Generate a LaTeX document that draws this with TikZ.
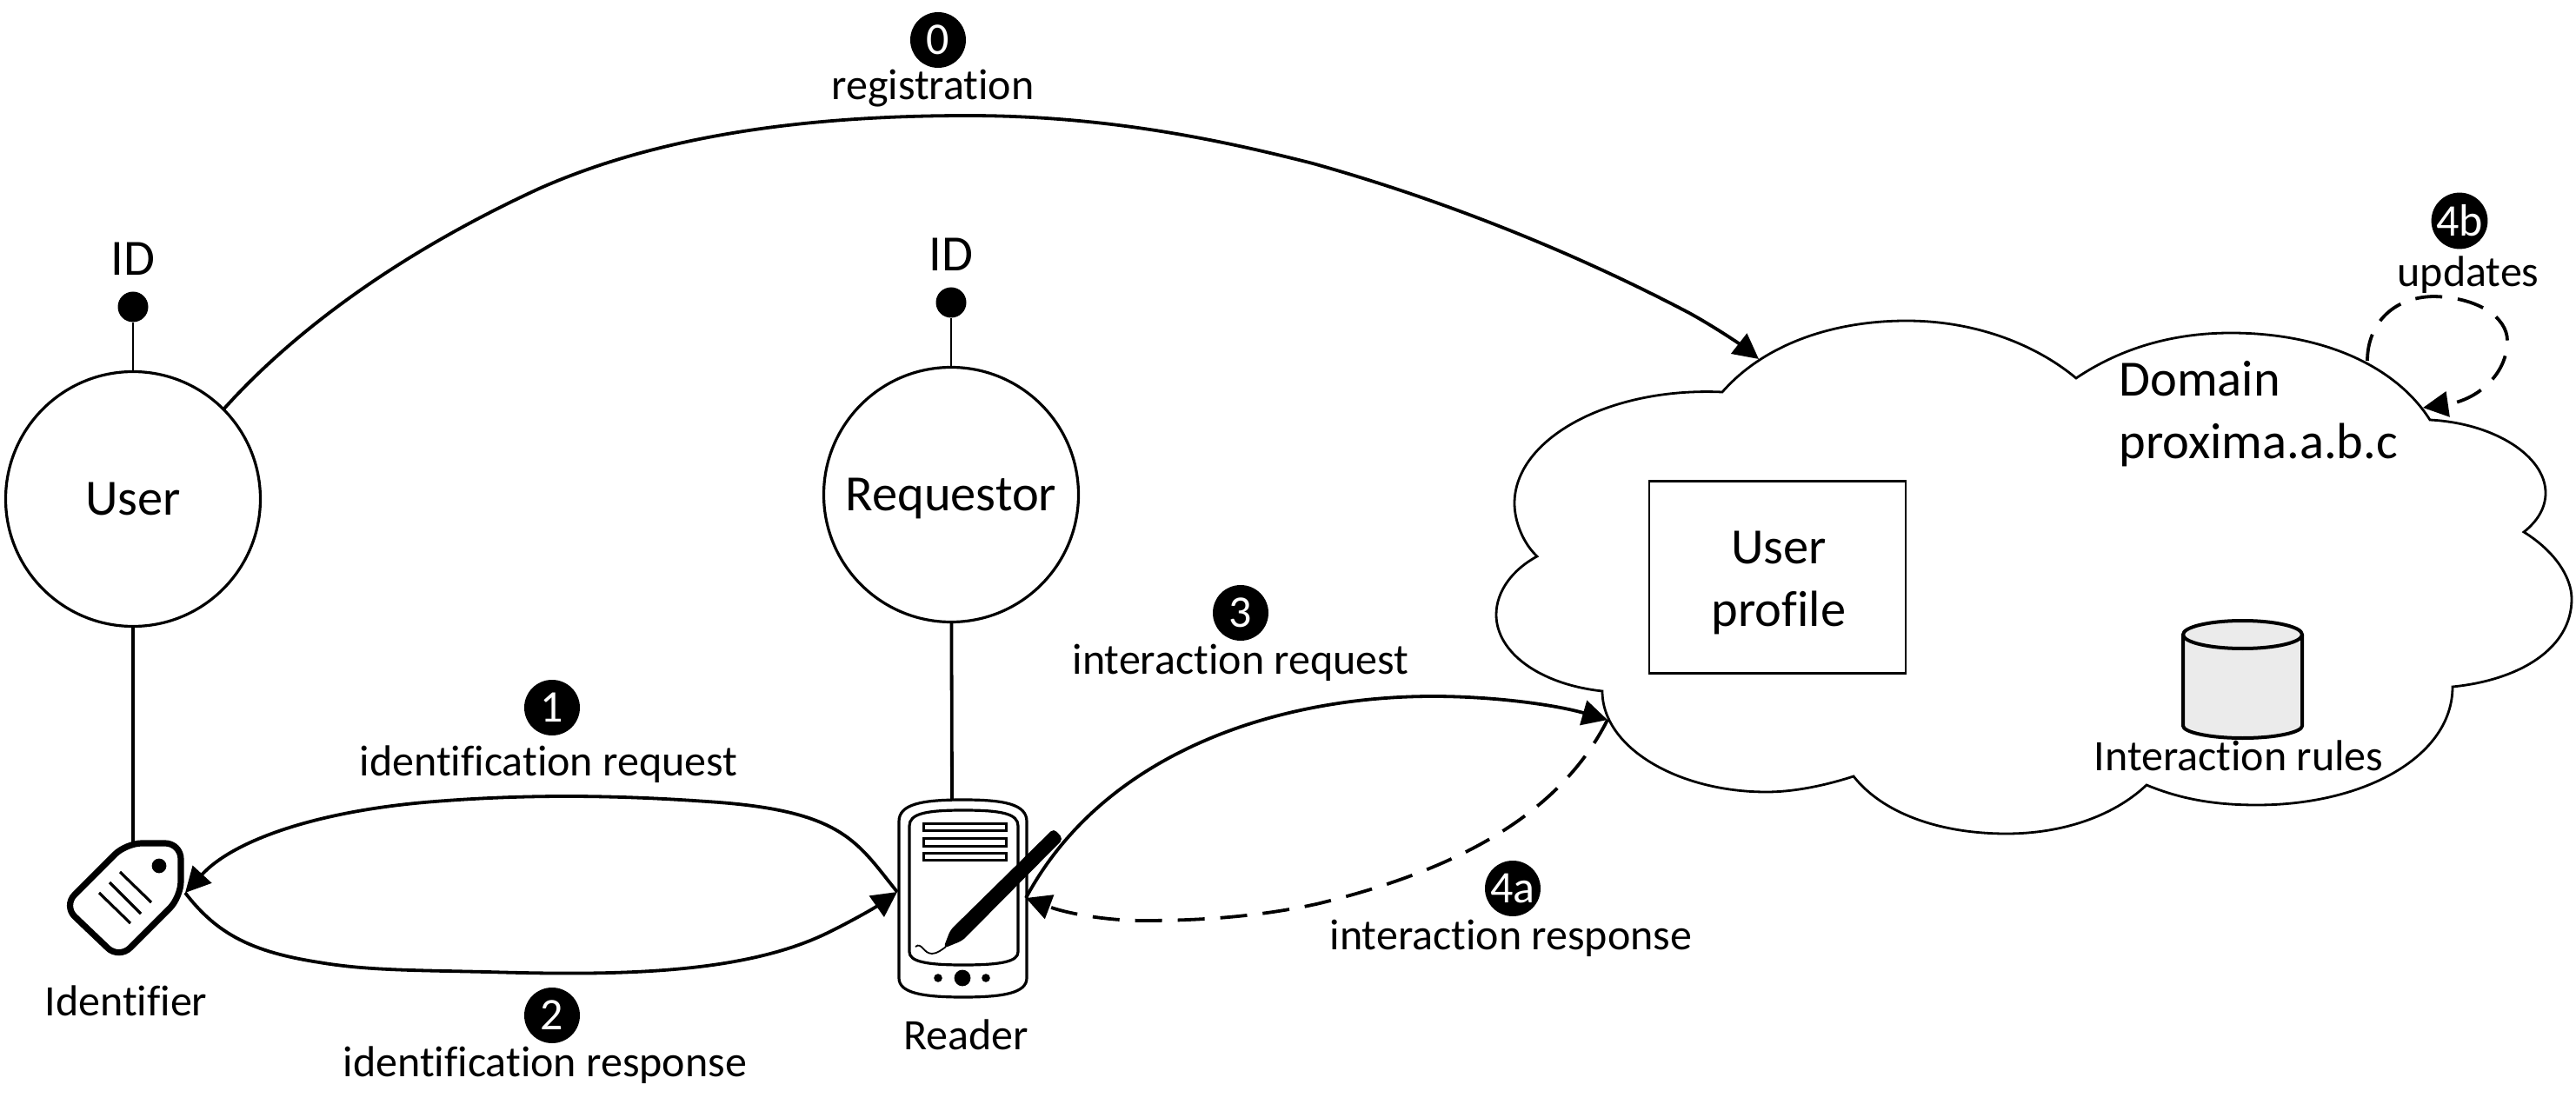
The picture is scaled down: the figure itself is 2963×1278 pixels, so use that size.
\documentclass[tikz,border=0pt]{standalone}
\usepackage{fontspec}
\setmainfont{Carlito}[Ligatures=NoCommon]
\usetikzlibrary{arrows.meta}
\tikzset{
  big/.style={font=\fontsize{29.2}{36}\selectfont,inner sep=0pt,align=center},
  lab/.style={font=\fontsize{25}{30}\selectfont,inner sep=0pt,anchor=base},
  badge/.style={circle,fill=black,text=white,minimum size=32pt,inner sep=0pt,font=\fontsize{26}{26}\selectfont},
  actor/.style={circle,draw,line width=1.6pt,minimum size=146.5pt,inner sep=0pt,font=\fontsize{29.2}{36}\selectfont,text height=19pt,text depth=0pt},
  iddot/.style={circle,fill=black,minimum size=17.5pt,inner sep=0pt},
  stem/.style={line width=0.75pt,black},
  link/.style={line width=1.9pt},
  flow/.style={line width=1.9pt,-{Triangle[length=14.5pt,width=14.5pt]}},
  dflow/.style={flow,dash pattern=on 15.5pt off 9pt},
  cloudline/.style={line width=1.4pt,line join=miter},
}
\begin{document}
\begin{tikzpicture}[x=0.5pt,y=-0.5pt]
\useasboundingbox[fill=white] (0,0) rectangle (2963,1278);
% cloud
\draw[cloudline] (1981,451)
 .. controls (2030,395) and (2110,369) .. (2193,369)
 .. controls (2270,369) and (2340,395) .. (2388,435)
 .. controls (2440,400) and (2500,383) .. (2566,383)
 .. controls (2670,383) and (2755,420) .. (2795,483)
 .. controls (2870,487) and (2928,525) .. (2928,567)
 .. controls (2928,585) and (2918,600) .. (2903,612)
 .. controls (2940,635) and (2958,665) .. (2958,689)
 .. controls (2958,745) and (2900,782) .. (2821,790)
 .. controls (2821,870) and (2720,926) .. (2596,926)
 .. controls (2550,926) and (2510,920) .. (2469,903)
 .. controls (2430,940) and (2370,959) .. (2308,959)
 .. controls (2230,959) and (2165,935) .. (2132,893)
 .. controls (2095,905) and (2060,911) .. (2032,911)
 .. controls (1930,911) and (1843,860) .. (1843,795)
 .. controls (1770,787) and (1721,750) .. (1721,707)
 .. controls (1721,680) and (1740,655) .. (1768,640)
 .. controls (1752,625) and (1742,600) .. (1742,579)
 .. controls (1742,505) and (1850,445) .. (1981,451) -- cycle;
% actors
\node[actor] (user) at (153,574) {User};
\node[actor] (requestor) at (1094,569) {Requestor};
\node[iddot] (userdot) at (153,353) {};
\node[iddot] (reqdot) at (1094,348) {};
\node[big,anchor=base] (userid) at (153,317) {ID};
\node[big,anchor=base] (reqid) at (1094,312) {ID};
\draw[stem] (userdot) -- (user);
\draw[stem] (reqdot) -- (requestor);
% anchors
\coordinate (tagtop) at (153,970);
\coordinate (tagR) at (213,1027);
\coordinate (readerTop) at (1095,921);
\coordinate (readerL) at (1032,1026);
\coordinate (readerR) at (1180,1033);
\coordinate (userOut) at (257,471);
\coordinate (cloudA) at (2023,413);
\coordinate (cloudB) at (1849,828);
\coordinate (loopS) at (2723,415);
\coordinate (loopE) at (2787,469);
\draw[link] (user) -- (tagtop);
\draw[link] (requestor) -- (readerTop);
% tag
\draw[line width=3.6pt,rounded corners=9pt,fill=white] (145,970) -- (208,970) -- (208,1032) -- (137,1103) -- (73,1042) -- cycle;
\fill (183,996) circle (4.2pt);
\draw[line width=1.6pt] (138,1003) -- (174,1038) (126,1015) -- (162,1051) (114,1027) -- (150,1062);
% reader
\draw[line width=1.6pt,fill=white] (1034,945) .. controls (1034,925) and (1060,920) .. (1108,920)
 .. controls (1155,920) and (1181,925) .. (1181,945) -- (1181,1125)
 .. controls (1181,1142) and (1155,1147) .. (1108,1147)
 .. controls (1060,1147) and (1034,1142) .. (1034,1125) -- cycle;
\draw[line width=1.6pt] (1046,950) .. controls (1046,936) and (1065,932) .. (1108,932)
 .. controls (1152,932) and (1171,936) .. (1171,950) -- (1171,1095)
 .. controls (1171,1106) and (1152,1110) .. (1108,1110)
 .. controls (1065,1110) and (1046,1106) .. (1046,1095) -- cycle;
\draw[line width=1.5pt] (1062,947) rectangle (1157,955) (1062,964) rectangle (1157,973) (1062,981) rectangle (1157,989);
\fill (1107,1125) circle (4.7pt) (1079,1125) circle (2.4pt) (1134,1125) circle (2.4pt);
\fill[rounded corners=2.5pt] (1212,953) -- (1223,965) -- (1107,1082) -- (1085,1091) -- (1093,1070) -- cycle;
\draw[line width=0.9pt] (1053,1089) .. controls (1060,1083) and (1062,1097) .. (1072,1097) .. controls (1078,1097) and (1084,1092) .. (1088,1089);
% flows
\draw[flow] (readerL) .. controls (985,968) and (970,932) .. (813,922)
 .. controls (700,914) and (600,914) .. (500,922)
 .. controls (370,932) and (270,965) .. (tagR);
\draw[flow] (tagR) .. controls (250,1075) and (290,1095) .. (367,1107)
 .. controls (420,1116) and (470,1116) .. (560,1118)
 .. controls (700,1122) and (850,1122) .. (950,1074)
 .. controls (975,1062) and (1005,1045) .. (readerL);
\draw[flow] (userOut) .. controls (325,395) and (440,300) .. (620,217)
 .. controls (760,155) and (930,133) .. (1113,133)
 .. controls (1270,133) and (1400,160) .. (1510,188)
 .. controls (1660,230) and (1810,290) .. (1943,360)
 .. controls (1972,376) and (2000,395) .. (cloudA);
\draw[flow] (readerR) .. controls (1270,865) and (1470,801) .. (1648,801)
 .. controls (1720,801) and (1790,811) .. (cloudB);
\draw[dflow] (cloudB) .. controls (1790,945) and (1660,1005) .. (1514,1040)
 .. controls (1440,1056) and (1370,1059) .. (1315,1059)
 .. controls (1270,1059) and (1225,1050) .. (readerR);
\draw[dflow] (loopS) .. controls (2723,375) and (2750,342) .. (2799,341)
 .. controls (2850,342) and (2884,365) .. (2884,392)
 .. controls (2884,430) and (2850,460) .. (loopE);
% profile, cylinder
\node[draw,line width=1.4pt,minimum width=147.5pt,minimum height=110.5pt,inner sep=0pt] (profile) at (2044.5,664) {};
\node[big] (profiletext) at (2046,670) {User\\profile};
\draw[line width=2pt,fill=black!8] (2511,730) -- (2511,835) .. controls (2511,842) and (2540,849) .. (2579.5,849) .. controls (2619,849) and (2648,842) .. (2648,835) -- (2648,730);
\draw[line width=2pt,fill=black!8] (2579.5,730) ellipse (34.25pt and 8pt);
% text
\node[big,align=left,anchor=west] (domain) at (2437,476) {Domain\\proxima.a.b.c};
\node[lab] (rules) at (2575,886) {Interaction rules};
\node[lab] (identifier) at (145,1168) {Identifier};
\node[lab] (readerlab) at (1111,1207) {Reader};
\node[badge] (b0) at (1079,46) {0};
\node[lab] (l0) at (1073,115) {registration};
\node[badge] (b1) at (635,814) {1};
\node[lab] (l1) at (631,892) {identification request};
\node[badge] (b2) at (635,1168) {2};
\node[lab] (l2) at (627,1238) {identification response};
\node[badge] (b3) at (1427,705) {3};
\node[lab] (l3) at (1427,775) {interaction request};
\node[badge] (b4a) at (1740,1022) {4a};
\node[lab] (l4a) at (1738,1092) {interaction response};
\node[badge] (b4b) at (2829,254) {4b};
\node[lab] (l4b) at (2839,330) {updates};
\end{tikzpicture}
\end{document}
